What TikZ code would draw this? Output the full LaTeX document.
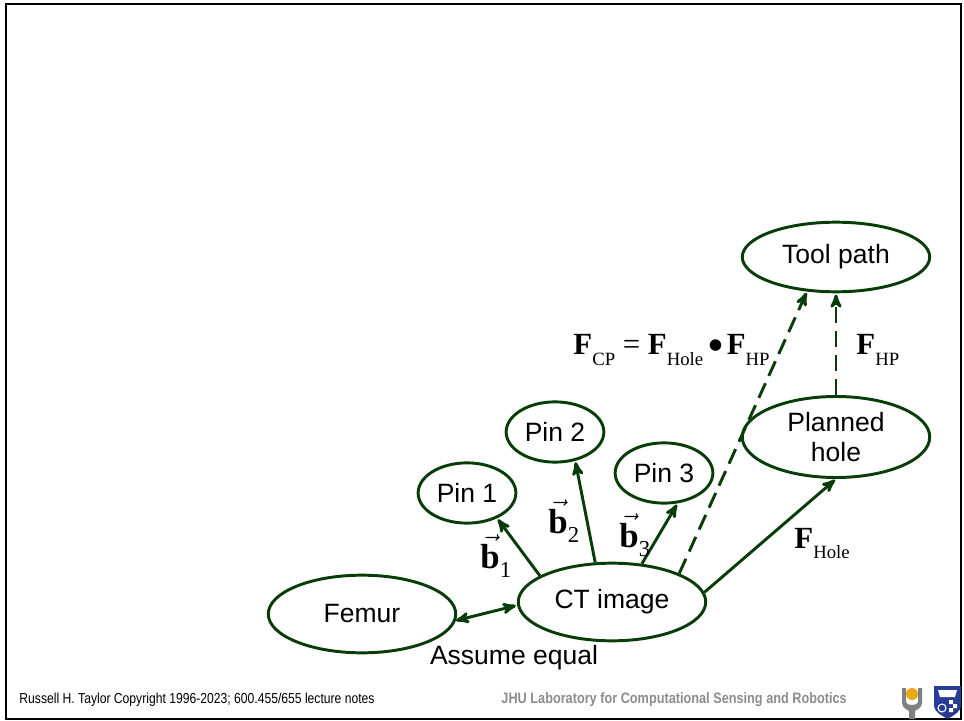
\documentclass[tikz,border=0pt]{standalone}
\usepackage{fontspec}
\setmainfont{Liberation Sans}
\newfontfamily\tmsfont{Liberation Serif}
\newfontfamily\narrowfont[FakeStretch=0.84]{Liberation Sans}
\usetikzlibrary{shapes.geometric}
\usetikzlibrary{arrows}
\definecolor{edgegreen}{RGB}{8,60,8}
\definecolor{footgray}{RGB}{140,140,140}
\definecolor{jhublue}{RGB}{40,60,150}
\definecolor{lcsryellow}{RGB}{230,170,20}
\newcommand{\Fs}[1]{\textbf{F}\raisebox{-7.5pt}{\fontsize{14}{14}\selectfont #1}}
\newcommand{\bvec}[1]{{\fontsize{26}{26}\selectfont$\vec{\mbox{\textbf{b}}}$}\raisebox{-7pt}{\fontsize{17}{17}\selectfont #1}}
\newcommand{\compose}{\hspace{3pt}\raisebox{-4.8pt}{\fontsize{36}{36}\selectfont\textbullet}\hspace{2pt}}

\begin{document}
\begin{tikzpicture}[x=0.7469pt,y=-0.7469pt,->,>=stealth',shorten >=1pt,
    line width=2.2pt,color=edgegreen,
    main node/.style={ellipse,draw=edgegreen,line width=2.2pt,text=black,inner sep=0pt,font=\fontsize{19.8}{23}\selectfont},
    pin node/.style={main node,minimum width=73pt,minimum height=45pt},
    big node/.style={main node,minimum width=140pt,minimum height=58pt},
    plan edge/.style={dash pattern=on 12pt off 6pt},
    lbl/.style={text=black,anchor=base west,inner sep=0pt,font=\tmsfont\fontsize{23}{23}\selectfont}]
  \useasboundingbox (0,0) rectangle (964,721);
  \draw[-,black,line width=1.6pt] (6,4) rectangle (961,719);

  \node[big node] (femur) at (362,614) {Femur};
  \node[big node] (ct) at (612,602) {CT image};
  \node[pin node] (pin1) at (467,493) {Pin 1};
  \node[pin node] (pin2) at (555,432) {Pin 2};
  \node[pin node] (pin3) at (664,473) {Pin 3};
  \node[big node,minimum height=60.5pt,align=center] (hole) at (836,437) {Planned\\hole};
  \node[big node,minimum height=52pt] (tool) at (836,257) {Tool path};

  \path[<->] (femur.-4) edge (ct.182);
  \path (ct.160) edge (pin1.-40);
  \path (ct.113) edge (pin2.-55);
  \path (ct.52) edge (pin3.-66);
  \path (ct.6) edge (hole.-90);
  \path[plan edge] (ct.23) edge (tool.-130);
  \path[plan edge] (hole.north) edge (tool.south);

  % labels
  \node[lbl] (bone) at (479,568) {\bvec{1}};
  \node[lbl] (btwo) at (547,533) {\bvec{2}};
  \node[lbl] (bthree) at (618,547) {\bvec{3}};
  \node[lbl] (fhole) at (793,548) {\Fs{Hole}};
  \node[lbl] (fhp) at (855,355) {\Fs{HP}};
  \node[lbl] (fcp) at (572,355) {\Fs{CP} = \Fs{Hole}\compose\Fs{HP}};
  \node[text=black,font=\fontsize{19.8}{23}\selectfont] (assume) at (514,658) {Assume equal};

  % footer
  \node[anchor=base west,inner sep=0pt,text=black,font=\narrowfont\fontsize{10.8}{12}\selectfont] (credit) at (18,703) {Russell H. Taylor Copyright 1996-2023; 600.455/655 lecture notes};
  \node[anchor=base west,inner sep=0pt,text=footgray,font=\narrowfont\bfseries\fontsize{11.3}{12}\selectfont] (lab) at (500,703) {JHU Laboratory for Computational Sensing and Robotics};

  % logos
  \fill[gray] (902,688) -- (906,688) -- (906,702) .. controls (906,706) and (918,706) .. (918,702) -- (918,688) -- (922,688) -- (922,703) .. controls (922,708) and (916,710) .. (915,711) -- (915,719) -- (909,719) -- (909,711) .. controls (908,710) and (902,708) .. (902,703) -- cycle;
  \fill[lcsryellow] (912,694) circle (6);
  \fill[jhublue] (934,686) -- (961,686) -- (961,705) .. controls (961,713) and (950,717) .. (947.5,719) .. controls (945,717) and (934,713) .. (934,705) -- cycle;
  \fill[white] (938,690) -- (957,690) -- (955,697) -- (940,697) -- cycle;
  \draw[-,white,line width=0.8pt] (942,708) circle (4);
  \fill[white] (949,700) rectangle (953,704) (953,704) rectangle (957,708) (949,708) rectangle (953,712);
\end{tikzpicture}
\end{document}
